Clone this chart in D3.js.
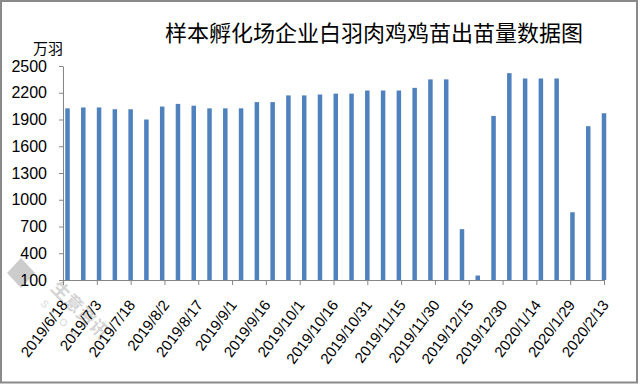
<!DOCTYPE html>
<html>
<head>
<meta charset="utf-8">
<script src="https://cdn.jsdelivr.net/npm/d3@7"></script>
<style>
body { margin: 0; background: #fff; }
svg { display: block; font-family: "Liberation Sans", Arial, sans-serif; }
.axis path, .axis line { stroke: #868686; }
.axis text { fill: #000; }
</style>
</head>
<body>
<svg id="chart" width="640" height="385"></svg>
<script>
// weekly hatch dates (one bar each)
var barDates = ["2019/6/20", "2019/6/27", "2019/7/4", "2019/7/11", "2019/7/18", "2019/7/25",
  "2019/8/1", "2019/8/8", "2019/8/15", "2019/8/22", "2019/8/29", "2019/9/5", "2019/9/12",
  "2019/9/19", "2019/9/26", "2019/10/3", "2019/10/10", "2019/10/17", "2019/10/24", "2019/10/31",
  "2019/11/7", "2019/11/14", "2019/11/21", "2019/11/28", "2019/12/5", "2019/12/12", "2019/12/19",
  "2019/12/26", "2020/1/2", "2020/1/9", "2020/1/16", "2020/1/23", "2020/1/30", "2020/2/6", "2020/2/13"];

// 万羽
var values = [2025, 2035, 2035, 2015, 2015, 1900, 2045, 2075, 2055, 2025, 2025, 2025, 2095,
  2095, 2170, 2170, 2180, 2190, 2190, 2225, 2225, 2225, 2255, 2350, 2350, 670, 150,
  1940, 2420, 2360, 2360, 2360, 860, 1825, 1970];

var tickLabels = ["2019/6/18", "2019/7/3", "2019/7/18", "2019/8/2", "2019/8/17", "2019/9/1",
  "2019/9/16", "2019/10/1", "2019/10/16", "2019/10/31", "2019/11/15", "2019/11/30",
  "2019/12/15", "2019/12/30", "2020/1/14", "2020/1/29", "2020/2/13"];

var yTicks = [100, 400, 700, 1000, 1300, 1600, 1900, 2200, 2500];

var title = "样本孵化场企业白羽肉鸡鸡苗出苗量数据图";
var unit = "万羽";

var parseDate = d3.utcParse("%Y/%m/%d");

var svg = d3.select("#chart"),
    margin = {top: 66, right: 36, bottom: 105, left: 63},
    width = svg.attr("width") - margin.left - margin.right,
    height = svg.attr("height") - margin.top - margin.bottom;

// outer frame
svg.append("rect")
  .attr("x", 1).attr("y", 1)
  .attr("width", 636).attr("height", 381.5)
  .attr("fill", "#fff")
  .attr("stroke", "#8a8a8a")
  .attr("stroke-width", 2);

// watermark (drawn under the chart)
var wm = svg.append("g").attr("opacity", 0.75);
wm.append("path")
  .attr("d", "M21,258 L35,273 L21,288 L7,273 Z")
  .attr("fill", "#bcbcbc");
wm.append("text")
  .attr("transform", "translate(50,289) rotate(45)")
  .attr("font-family", "Noto Sans CJK SC")
  .attr("font-weight", "bold")
  .attr("font-size", 18)
  .attr("fill", "#c6c6c6")
  .text("生意资讯");
wm.append("text")
  .attr("transform", "translate(40,304) rotate(45)")
  .attr("font-size", 10)
  .attr("letter-spacing", 6)
  .attr("fill", "#c8c8c8")
  .text("SCOM");

var g = svg.append("g").attr("transform", "translate(" + margin.left + "," + margin.top + ")");

var x = d3.scaleUtc()
    .domain([parseDate(tickLabels[0]), parseDate(tickLabels[tickLabels.length - 1])])
    .range([0, width]);

var y = d3.scaleLinear()
    .domain([yTicks[0], yTicks[yTicks.length - 1]])
    .range([height, 0]);

var barWidth = 4.5;

g.selectAll(".bar")
  .data(barDates)
  .enter().append("rect")
    .attr("class", "bar")
    .attr("x", function(d) { return x(parseDate(d)) - barWidth / 2; })
    .attr("y", function(d, i) { return y(values[i]); })
    .attr("width", barWidth)
    .attr("height", function(d, i) { return height - y(values[i]); })
    .attr("fill", "#4f81bd");

g.append("g")
  .attr("class", "axis axis--y")
  .call(d3.axisLeft(y).tickValues(yTicks).tickFormat(d3.format("d"))
    .tickSizeInner(4).tickSizeOuter(0).tickPadding(12))
  .call(function(a) { a.selectAll("text").attr("font-size", 16); });

g.append("g")
  .attr("class", "axis axis--x")
  .attr("transform", "translate(0," + height + ")")
  .call(d3.axisBottom(x)
    .tickValues(tickLabels.map(parseDate))
    .tickFormat(function(d, i) { return tickLabels[i]; })
    .tickSizeInner(5).tickSizeOuter(0))
  .call(function(a) {
    a.selectAll("text")
      .attr("font-size", 15)
      .attr("x", 0).attr("y", 0).attr("dy", 0)
      .attr("text-anchor", "end")
      .attr("transform", "translate(5,25) rotate(-53)");
  });

svg.append("text")
  .attr("x", 48).attr("y", 54)
  .attr("text-anchor", "middle")
  .attr("font-family", "Noto Sans CJK SC")
  .attr("font-size", 15)
  .text(unit);

svg.append("text")
  .attr("x", 374).attr("y", 41)
  .attr("text-anchor", "middle")
  .attr("font-family", "Noto Sans CJK SC")
  .attr("font-size", 22)
  .text(title);
</script>
</body>
</html>
